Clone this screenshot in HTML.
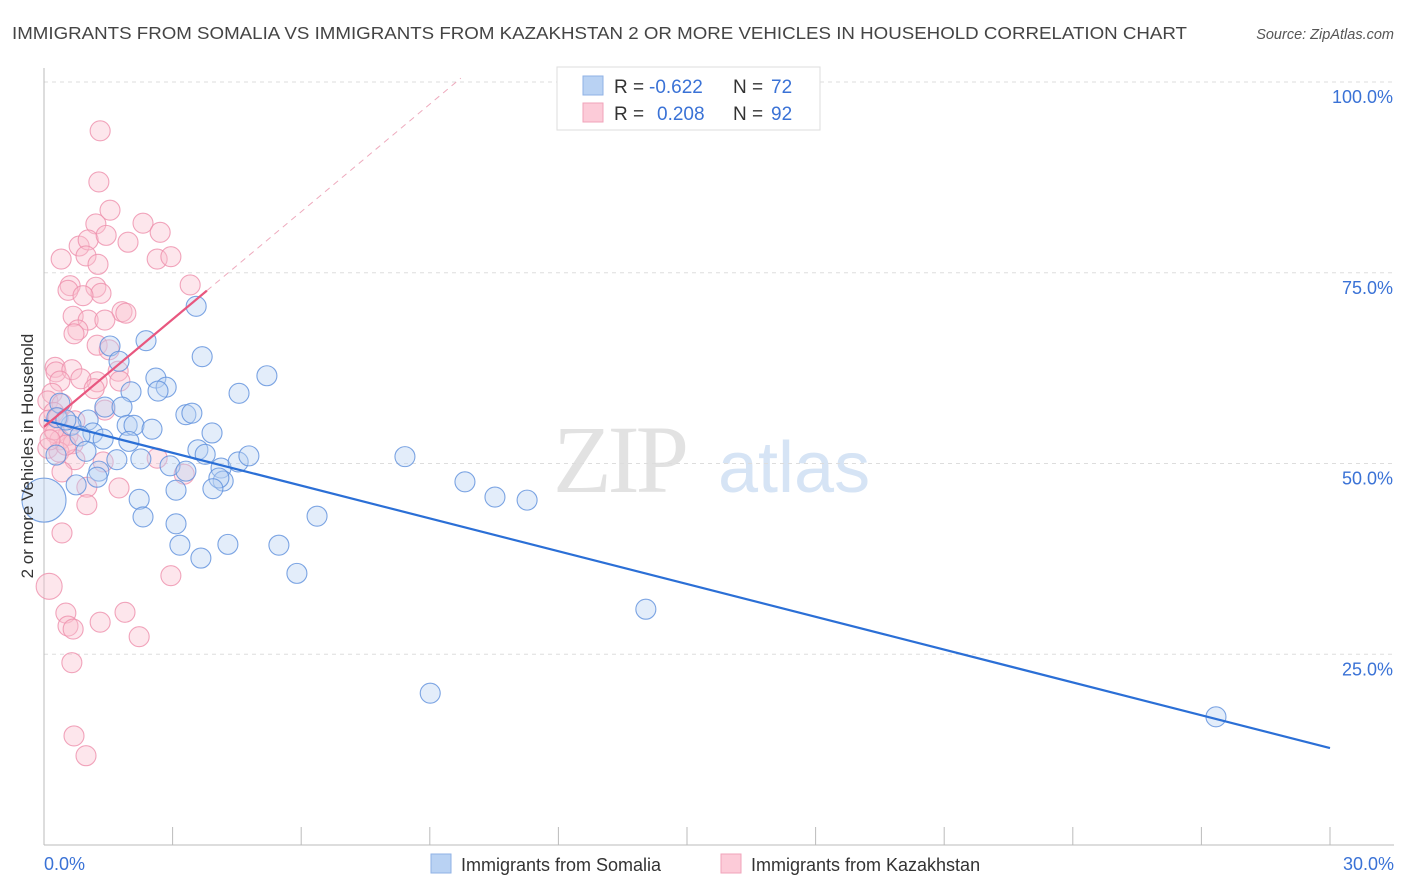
<!DOCTYPE html>
<html><head><meta charset="utf-8"><style>
body{margin:0;background:#fff;font-family:"Liberation Sans",sans-serif;}
svg{display:block}
</style></head><body>
<svg id="chart" width="1406" height="892" viewBox="0 0 1406 892">
<text x="12" y="39" font-size="17.5" fill="#444" textLength="1175" lengthAdjust="spacingAndGlyphs">IMMIGRANTS FROM SOMALIA VS IMMIGRANTS FROM KAZAKHSTAN 2 OR MORE VEHICLES IN HOUSEHOLD CORRELATION CHART</text>
<text x="1394" y="39" font-size="14.5" fill="#555" text-anchor="end" font-style="italic">Source: ZipAtlas.com</text>
<g>
<text x="553" y="492" font-size="96" font-family="Liberation Serif,serif" fill="#e2e2e2" letter-spacing="-4">ZIP</text>
<text x="718" y="492" font-size="72" fill="#d6e4f5">atlas</text>
</g>
<g id="grid"></g>
<g id="axes"></g>
<g id="pink"></g>
<g id="blue"></g>
<g id="lines"></g>
<text transform="translate(33,456) rotate(-90)" font-size="17" fill="#333" text-anchor="middle">2 or more Vehicles in Household</text>
<g>
<rect x="557" y="67" width="263" height="63" fill="#fff" stroke="#ddd"/>
<rect x="583" y="76" width="20" height="19" fill="#b9d2f3" stroke="#8fb2e6"/>
<rect x="583" y="103" width="20" height="19" fill="#fccbd8" stroke="#f0a3ba"/>
<text x="614" y="93" font-size="19" fill="#333">R =</text>
<text x="649" y="93" font-size="19" fill="#3a72d6">-0.622</text>
<text x="733" y="93" font-size="19" fill="#333">N =</text>
<text x="771" y="93" font-size="19" fill="#3a72d6">72</text>
<text x="614" y="120" font-size="19" fill="#333">R =</text>
<text x="657" y="120" font-size="19" fill="#3a72d6">0.208</text>
<text x="733" y="120" font-size="19" fill="#333">N =</text>
<text x="771" y="120" font-size="19" fill="#3a72d6">92</text>
</g>
<g>
<rect x="431" y="854" width="20" height="19" fill="#b9d2f3" stroke="#8fb2e6"/>
<text x="461" y="871" font-size="18" fill="#333">Immigrants from Somalia</text>
<rect x="721" y="854" width="20" height="19" fill="#fccbd8" stroke="#f0a3ba"/>
<text x="751" y="871" font-size="18" fill="#333">Immigrants from Kazakhstan</text>
</g>
</svg>
<script>
const blueX=[3.55,2.38,1.54,1.75,3.69,2.61,2.85,2.03,2.66,4.55,5.20,0.37,1.42,1.82,3.31,3.45,1.03,1.94,2.10,2.52,0.63,1.14,3.92,1.38,1.98,0.84,0.30,3.59,3.76,1.70,2.26,2.94,3.31,4.13,4.18,4.08,4.53,4.78,8.42,1.28,1.24,0.75,3.94,3.08,2.22,9.82,10.52,11.27,2.31,3.08,6.37,3.17,4.29,5.48,3.66,5.90,14.04,9.01,27.34,0.98,0.51,0.28];
const blueY=[70.6,66.1,65.4,63.4,64.0,61.2,60.0,59.4,59.5,59.2,61.5,57.9,57.4,57.4,56.4,56.6,55.7,55.0,55.0,54.5,55.0,54.0,54.0,53.2,52.9,53.6,56.0,51.8,51.2,50.5,50.6,49.7,49.0,49.4,47.7,48.1,50.2,51.0,50.9,49.0,48.2,47.2,46.7,46.5,45.3,47.6,45.6,45.2,43.0,42.1,43.1,39.3,39.4,39.3,37.6,35.6,30.9,19.9,16.8,51.6,55.7,51.1];
const pinkX=[1.31,1.28,1.54,1.21,2.31,2.71,0.82,1.03,1.96,1.45,0.40,0.98,1.26,2.64,2.96,0.61,0.56,1.21,1.33,0.91,3.41,1.82,1.91,0.68,1.03,1.42,0.79,0.70,1.24,1.52,0.26,0.28,0.65,1.73,1.24,0.86,0.37,1.77,1.17,0.19,0.09,0.42,1.42,0.23,0.12,0.72,0.26,0.56,0.37,0.68,0.09,0.35,0.72,1.38,2.64,0.42,3.27,1.00,1.75,1.00,0.42,0.51,1.89,0.56,0.68,1.31,2.22,2.96,0.65,0.70,0.98,0.23,0.33,0.51,0.14];
const pinkY=[93.6,86.9,83.2,81.4,81.5,80.3,78.5,79.3,79.0,79.9,76.8,77.2,76.1,76.8,77.1,73.3,72.7,73.1,72.3,72.0,73.4,69.9,69.7,69.3,68.8,68.8,67.5,67.0,65.5,64.9,62.6,62.0,62.3,62.1,60.7,61.1,60.8,60.8,59.8,59.2,58.2,57.8,57.0,56.7,55.7,55.6,54.0,53.7,53.1,52.6,52.0,51.5,50.5,50.2,50.7,48.9,48.6,46.9,46.8,44.6,40.9,30.4,30.5,28.7,28.3,29.2,27.3,35.3,23.9,14.3,11.7,54.4,56.0,52.4,53.1];
const bigBlue=[[0,45.2,22]];
const bigPink=[[0.12,33.9,13]];
const yTicks=[25,50,75,100];
const yTickLabels=["25.0%","50.0%","75.0%","100.0%"];
const xTicks=[0,3,6,9,12,15,18,21,24,27,30];
const blueTrend=[55.7,-1.433];
const pinkTrend=[54.8,4.7];
const NS='http://www.w3.org/2000/svg';
const sx=v=>44+v*(1286/30);
const sy=v=>845-v*7.63;
function mk(tag,attrs,parent){const e=document.createElementNS(NS,tag);for(const k in attrs)e.setAttribute(k,attrs[k]);document.getElementById(parent).appendChild(e);return e;}
yTicks.forEach((t,i)=>{
 const l=mk('line',{x1:44,x2:1394,y1:sy(t),y2:sy(t),stroke:'#ddd','stroke-dasharray':'4,4'},'grid');
 
 
 const tx=mk('text',{x:1393,y:sy(t)+21,'font-size':18,fill:'#3a72d6','text-anchor':'end'},'grid');
 tx.textContent=yTickLabels[i];
 
 
});
let ax=mk('line',{x1:44,x2:44,y1:68,y2:845,stroke:'#bbb'},'axes');


ax=mk('line',{x1:44,x2:1394,y1:845,y2:845,stroke:'#bbb'},'axes');


xTicks.forEach(t=>{const l=mk('line',{x1:sx(t),x2:sx(t),y1:827,y2:845,stroke:'#bbb'},'axes');
 
 });
let tl=mk('text',{x:44,y:870,'font-size':18,fill:'#3a72d6'},'axes');tl.textContent='0.0%';


tl=mk('text',{x:1394,y:870,'font-size':18,fill:'#3a72d6','text-anchor':'end'},'axes');tl.textContent='30.0%';


function dot(x,y,r,g,fill,stroke,name){const c=mk('circle',{cx:sx(x),cy:sy(y),r:r,fill:fill,'fill-opacity':0.4,stroke:stroke,'stroke-opacity':0.8,'stroke-width':1.1},g);
 
 }
pinkX.forEach((x,i)=>dot(x,pinkY[i],10,'pink','#f9c0d0','#ee8fab','kazakhstan-point'));
bigPink.forEach(p=>dot(p[0],p[1],p[2],'pink','#f9c0d0','#ee8fab','kazakhstan-point'));
blueX.forEach((x,i)=>dot(x,blueY[i],10,'blue','#b9d2f3','#5c8fdc','somalia-point'));
bigBlue.forEach(p=>dot(p[0],p[1],p[2],'blue','#b9d2f3','#5c8fdc','somalia-point'));
let ln=mk('line',{x1:sx(0),y1:sy(blueTrend[0]),x2:sx(30),y2:sy(blueTrend[0]+blueTrend[1]*30),stroke:'#2b6fd6','stroke-width':2.2},'lines');


ln=mk('line',{x1:sx(0),y1:sy(pinkTrend[0]),x2:sx(3.8),y2:sy(pinkTrend[0]+pinkTrend[1]*3.8),stroke:'#e8577f','stroke-width':2.2},'lines');


const xe=(100.5-pinkTrend[0])/pinkTrend[1];
ln=mk('line',{x1:sx(3.8),y1:sy(pinkTrend[0]+pinkTrend[1]*3.8),x2:sx(xe),y2:sy(100.5),stroke:'#eeaabd','stroke-width':1,'stroke-dasharray':'6,5'},'lines');


</script>
</body></html>
